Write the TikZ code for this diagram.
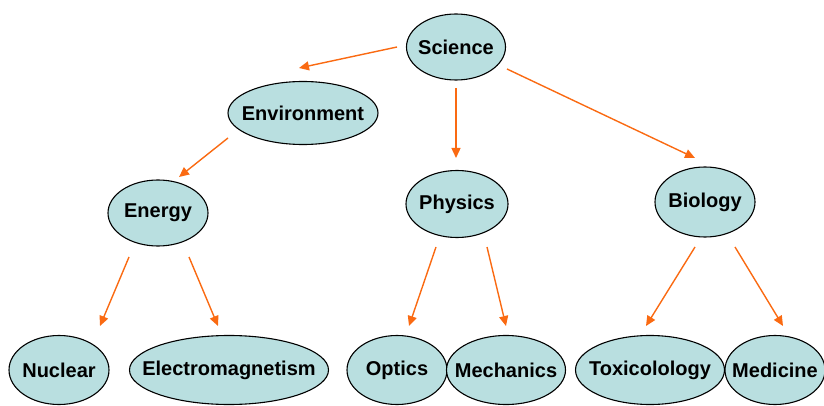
\documentclass[tikz,border=0pt]{standalone}
\usepackage{fontspec}
\setmainfont{Liberation Sans}
\usetikzlibrary{shapes.geometric,arrows.meta}
\definecolor{nodefill}{HTML}{B9DFE0}
\definecolor{arrowc}{HTML}{FA6A12}
\newcommand{\ztext}[1]{\makebox[0pt]{#1}}
\tikzset{
  topic/.style={ellipse, draw=black, line width=1.1pt, fill=nodefill, inner sep=0pt,
    font=\fontsize{20}{22}\selectfont\bfseries},
  link/.style={draw=arrowc, line width=1.4pt, -{Triangle[length=10pt,width=9pt]}}
}
\begin{document}
\begin{tikzpicture}[x=1pt,y=-1pt]
\useasboundingbox (0,0) rectangle (824,406);
% nodes
\node[topic, minimum width=99pt, minimum height=66pt] (science) at (456,47) {\ztext{Science}};
\node[topic, minimum width=150pt, minimum height=63pt] (env) at (303,113) {\ztext{Environment}};
\node[topic, minimum width=100pt, minimum height=66pt] (energy) at (158,213) {\ztext{Energy}};
\node[topic, minimum width=102pt, minimum height=67pt] (physics) at (457,204) {\ztext{Physics}};
\node[topic, minimum width=100pt, minimum height=70pt] (biology) at (705,202) {\ztext{Biology}};
\node[topic, minimum width=100pt, minimum height=69pt] (nuclear) at (59,370) {\ztext{Nuclear}};
\node[topic, minimum width=199pt, minimum height=69pt] (em) at (229,370) {\ztext{Electromagnetism}};
\node[topic, minimum width=100pt, minimum height=69pt] (optics) at (397,370) {\ztext{Optics}};
\node[topic, minimum width=119pt, minimum height=69pt] (mech) at (506,370) {\ztext{Mechanics}};
\node[topic, minimum width=149pt, minimum height=69pt] (tox) at (650,370) {\ztext{Toxicolology}};
\node[topic, minimum width=100pt, minimum height=69pt] (med) at (775,370) {\ztext{Medicine}};
% connector end points (arrows stop short of the nodes)
\coordinate (s1) at (397,47);  \coordinate (e1) at (299,68);
\coordinate (s2) at (456,88);  \coordinate (e2) at (456,158);
\coordinate (s3) at (507,69);  \coordinate (e3) at (695,158);
\coordinate (s4) at (228,138); \coordinate (e4) at (179,177);
\coordinate (s5) at (129,257); \coordinate (e5) at (100,326);
\coordinate (s6) at (189,257); \coordinate (e6) at (218,326);
\coordinate (s7) at (436,247); \coordinate (e7) at (409,326);
\coordinate (s8) at (487,247); \coordinate (e8) at (506,326);
\coordinate (s9) at (695,247); \coordinate (e9) at (646,326);
\coordinate (s10) at (735,247); \coordinate (e10) at (783,326);
\draw[link] (s1) -- (e1);
\draw[link] (s2) -- (e2);
\draw[link] (s3) -- (e3);
\draw[link] (s4) -- (e4);
\draw[link] (s5) -- (e5);
\draw[link] (s6) -- (e6);
\draw[link] (s7) -- (e7);
\draw[link] (s8) -- (e8);
\draw[link] (s9) -- (e9);
\draw[link] (s10) -- (e10);
\end{tikzpicture}
\end{document}
